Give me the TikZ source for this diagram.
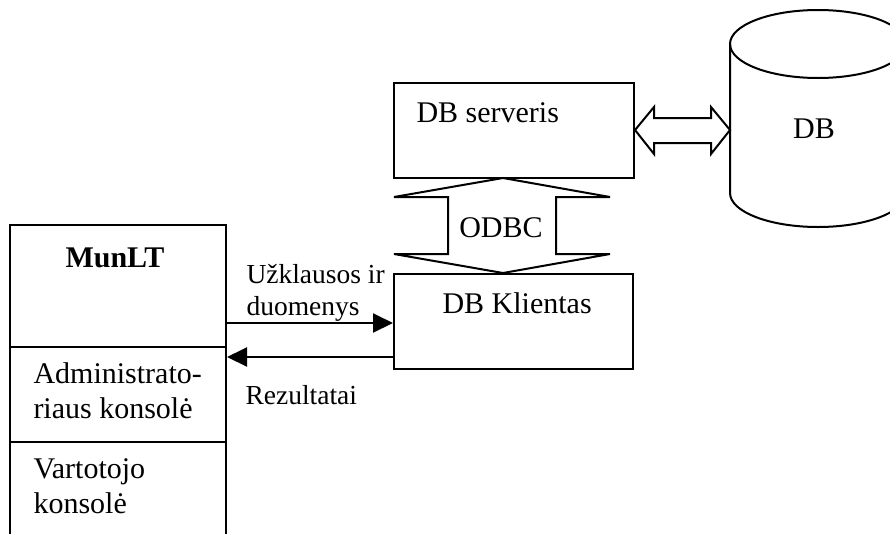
\documentclass[tikz,border=0pt]{standalone}
\usepackage{fontspec}
\setmainfont{Liberation Serif}
\usetikzlibrary{arrows.meta}

\begin{document}
\begin{tikzpicture}[x=0.4pt, y=-0.4pt,
  box/.style={draw, line width=0.8pt, rectangle, inner sep=0pt},
  outline/.style={draw, line width=0.8pt, line join=miter},
  flow/.style={line width=0.8pt, -{Triangle[length=8pt, width=7.6pt]}},
  big/.style={inner sep=0pt, font=\fontsize{12}{13.8}\selectfont},
  small/.style={inner sep=0pt, font=\fontsize{11}{12.65}\selectfont},
  txt/.style={big, anchor=base west},
  stxt/.style={small, anchor=base west}]

\useasboundingbox (0,0) rectangle (890,533);

% Database server and client boxes
\node[box, minimum width=96pt, minimum height=38pt] (srv) at (514,130.5) {};
\node[box, minimum width=95.6pt, minimum height=38pt] (kl) at (513.5,321.5) {};
\node[txt] (srvtxt) at (416,122) {DB serveris};
\node[txt] (kltxt) at (442,313) {DB Klientas};

% MunLT application with its two consoles (the lowest part runs off the page)
\node[box, minimum width=86.4pt, minimum height=48.8pt] (munlt) at (118,286) {};
\node[box, minimum width=86.4pt, minimum height=38pt] (adm) at (118,394.5) {};
\node[box, minimum width=86.4pt, minimum height=55.2pt] (usr) at (118,511) {};
\node[txt, font=\fontsize{12}{13.8}\selectfont\bfseries] (munlttxt) at (65,267) {MunLT};
\node[txt] (adm1) at (33,383) {Administrato-};
\node[txt] (adm2) at (33,418) {riaus konsolė};
\node[txt] (usr1) at (33,478) {Vartotojo};
\node[txt] (usr2) at (33,513) {konsolė};

% Database cylinder
\draw[line width=0.8pt] (730,44) -- (730,193)
  arc[start angle=180, end angle=360, x radius=35.2pt, y radius=13.6pt] -- (906,44);
\draw[line width=0.8pt] (818,44) ellipse [x radius=35.2pt, y radius=13.6pt];
\node[big, anchor=base] (dbtxt) at (814,138) {DB};

% Hollow double arrow between server and database
\draw[outline] (srv.east |- 0,130) -- (654,107) -- (654,118) -- (711,118) -- (711,107)
  -- (730,130) -- (711,154) -- (711,143) -- (654,143) -- (654,154) -- cycle;

% Hollow ODBC double arrow between server and client
\draw[outline] (503,178) -- (610,197) -- (556,197) -- (556,254) -- (610,254)
  -- (503,273) -- (394,254) -- (448,254) -- (448,197) -- (394,197) -- cycle;
\node[big, anchor=base] (odbc) at (501,237) {ODBC};

% Requests and results
\draw[flow] (munlt.east |- 0,323) -- (kl.west |- 0,323);
\draw[flow] (kl.west |- 0,357) -- (adm.east |- 0,357);
\node[stxt] (req1) at (246,283) {Užklausos ir};
\node[stxt] (req2) at (246,315) {duomenys};
\node[stxt] (res) at (245,404) {Rezultatai};

\end{tikzpicture}
\end{document}
